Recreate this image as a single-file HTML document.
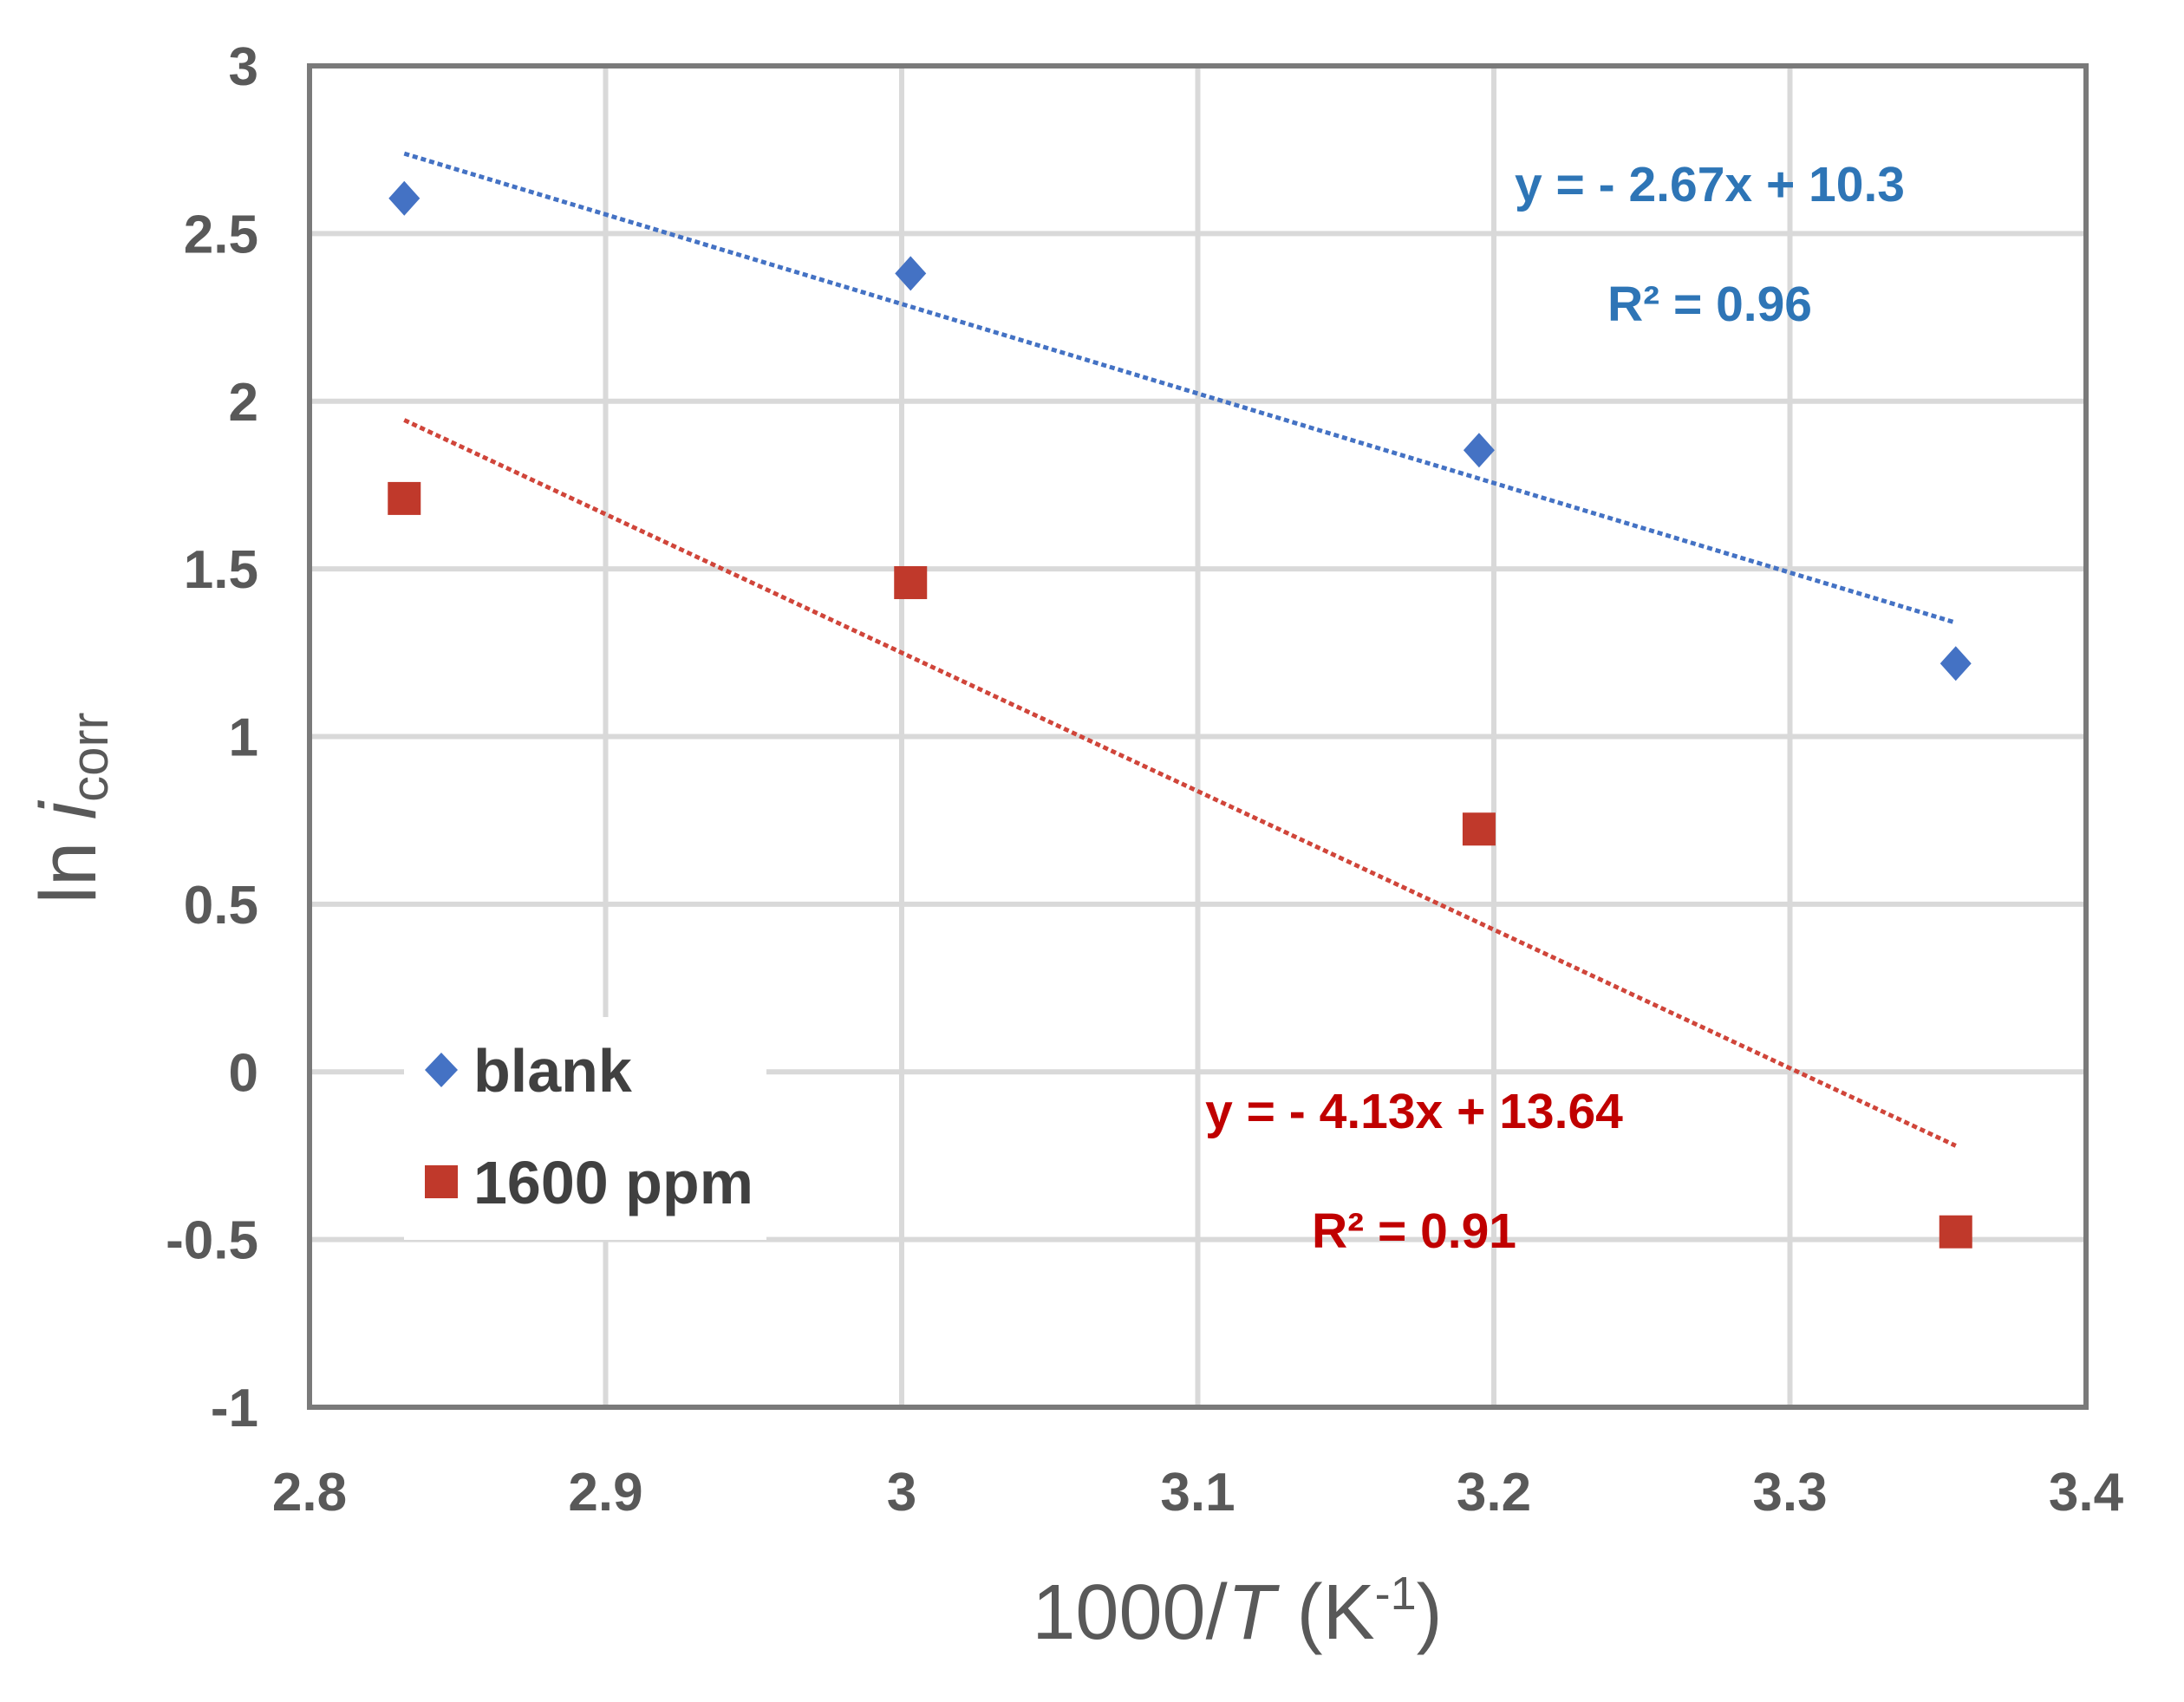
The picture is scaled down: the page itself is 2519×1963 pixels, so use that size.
<!DOCTYPE html>
<html><head><meta charset="utf-8"><style>
html,body{margin:0;padding:0;background:#fff;}
svg{display:block;}
text{font-family:"Liberation Sans",Arial,sans-serif;}
</style></head><body>
<svg id="chart" width="2519" height="1963" viewBox="0 0 2519 1963">
<g id="grid"></g>
<g id="axes"></g>
<g id="trend"></g>
<g id="marks"></g>
<g id="legend">
  <rect x="466" y="1173" width="418" height="257" fill="#fff"/>
  <g>
    <path d="M509 1214 L528 1234 L509 1254 L490 1234 Z" fill="#4472c4"/>
    <text x="546" y="1259" font-size="70" font-weight="bold" fill="#404040">blank</text>
  </g>
  <g>
    <rect x="490" y="1344" width="38" height="38" fill="#c0392b"/>
    <text x="546" y="1388" font-size="70" font-weight="bold" fill="#404040">1600 ppm</text>
  </g>
</g>
<g>
  <text x="1972" y="232" font-size="57" font-weight="bold" fill="#2e75b6" text-anchor="middle">y = - 2.67x + 10.3</text>
  <text x="1972" y="370" font-size="57" font-weight="bold" fill="#2e75b6" text-anchor="middle">R² = 0.96</text>
  <text x="1631" y="1301" font-size="57" font-weight="bold" fill="#c00000" text-anchor="middle">y = - 4.13x + 13.64</text>
  <text x="1631" y="1439" font-size="57" font-weight="bold" fill="#c00000" text-anchor="middle">R² = 0.91</text>
</g>
<text x="1427" y="1890" font-size="90" fill="#595959" text-anchor="middle">1000/<tspan font-style="italic">T</tspan> (K<tspan font-size="54" dy="-34">-1</tspan><tspan dy="34">)</tspan></text>
<text transform="translate(110,932) rotate(-90)" font-size="92" fill="#595959" text-anchor="middle">ln <tspan font-style="italic">i</tspan><tspan font-size="60" dy="14">corr</tspan></text>
</svg>
<script>
const xTicks=[2.8,2.9,3.0,3.1,3.2,3.3,3.4];
const xTickLabels=["2.8","2.9","3","3.1","3.2","3.3","3.4"];
const yTicks=[3,2.5,2,1.5,1,0.5,0,-0.5,-1];
const yTickLabels=["3","2.5","2","1.5","1","0.5","0","-0.5","-1"];
const invT=[2.832,3.003,3.195,3.356];
const blankVals=[2.605,2.381,1.854,1.218];
const ppmVals=[1.71,1.459,0.724,-0.477];
const blankFit=[-2.67,10.3];
const ppmFit=[-4.13,13.64];

const L=357,R=2406,T=76,B=1623,X0=2.8,X1=3.4,Y0=-1,Y1=3;
const sx=v=>L+(v-X0)/(X1-X0)*(R-L);
const sy=v=>B-(v-Y0)/(Y1-Y0)*(B-T);
const NS="http://www.w3.org/2000/svg";
function mk(tag,attrs,parent,txt){const e=document.createElementNS(NS,tag);for(const k in attrs)e.setAttribute(k,attrs[k]);if(txt!=null)e.textContent=txt;document.getElementById(parent).appendChild(e);return e;}

xTicks.forEach((v,i)=>{
  if(i>0&&i<xTicks.length-1){const g=mk('line',{x1:sx(v),x2:sx(v),y1:T,y2:B,stroke:'#d9d9d9','stroke-width':6},'grid');
  
  }
  const t=mk('text',{x:sx(v),y:1742,'font-size':62,'font-weight':'bold',fill:'#595959','text-anchor':'middle'},'axes',xTickLabels[i]);
  
  
});
yTicks.forEach((v,i)=>{
  if(v!==Y0&&v!==Y1){const g=mk('line',{x1:L,x2:R,y1:sy(v),y2:sy(v),stroke:'#d9d9d9','stroke-width':6},'grid');
  
  }
  const t=mk('text',{x:298,y:sy(v)+22,'font-size':62,'font-weight':'bold',fill:'#595959','text-anchor':'end'},'axes',yTickLabels[i]);
  
  
});
const frame=mk('rect',{x:L,y:T,width:R-L,height:B-T,fill:'none',stroke:'#7a7a7a','stroke-width':6},'axes');



function trend(fit,color,name){
  const xa=invT[0],xb=invT[invT.length-1];
  const l=mk('line',{x1:sx(xa),y1:sy(fit[0]*xa+fit[1]),x2:sx(xb),y2:sy(fit[0]*xb+fit[1]),stroke:color,'stroke-width':5,'stroke-dasharray':'6 4'},'trend');
  
  
}
trend(blankFit,'#4472c4','blank-trendline');
trend(ppmFit,'#d0453a','ppm-trendline');

invT.forEach((x,i)=>{
  const cx=sx(x),cy=sy(blankVals[i]);
  const d=mk('path',{d:`M${cx} ${cy-20} L${cx+18} ${cy} L${cx} ${cy+20} L${cx-18} ${cy} Z`,fill:'#4472c4'},'marks');
  
  
  const qy=sy(ppmVals[i]);
  const s=mk('rect',{x:cx-19,y:qy-19,width:38,height:38,fill:'#c0392b'},'marks');
  
  
});
</script>
</body></html>
